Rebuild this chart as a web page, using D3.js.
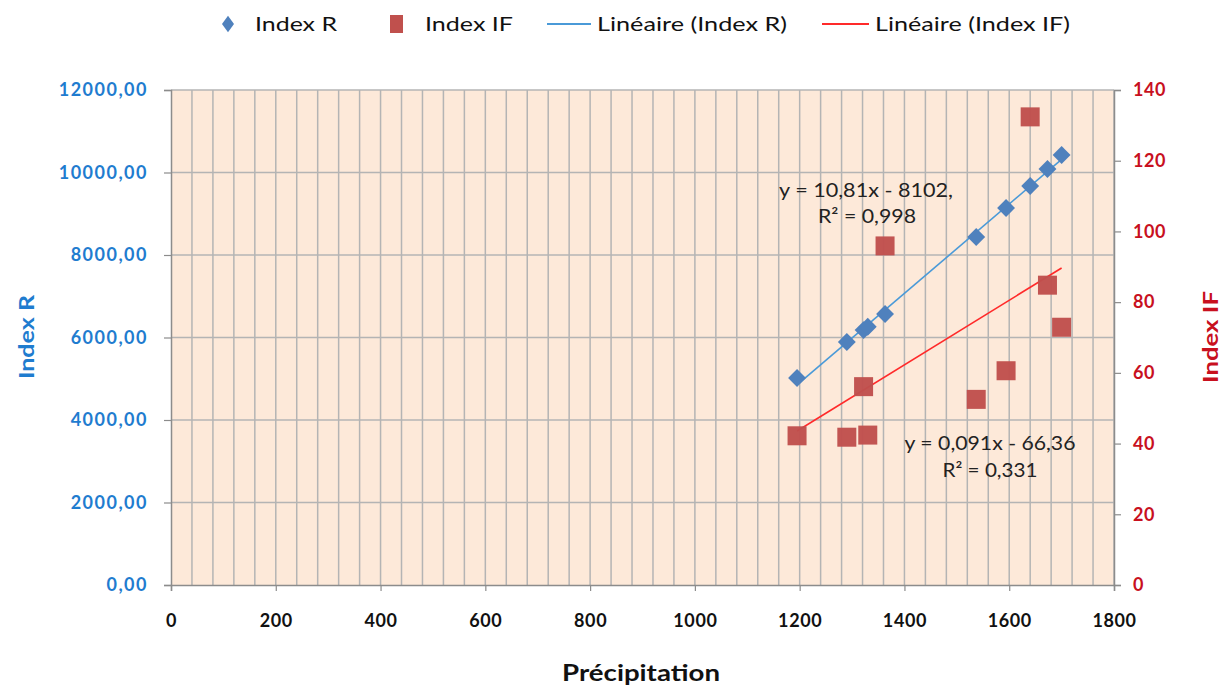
<!DOCTYPE html>
<html><head><meta charset="utf-8">
<script src="https://cdn.jsdelivr.net/npm/d3@7"></script>
<style>body{margin:0;background:#fff}svg text{font-family:Lato,"Open Sans",sans-serif}</style>
</head><body><svg id="c" width="1225" height="685"></svg>
<script>
const precipitation = [1195,1290,1322,1330,1363,1537,1594,1640,1673,1700];
const indexR = [5018,5891,6180,6260,6570,8436,9139,9673,10085,10424];
const indexIF = [42.2,41.8,56.1,42.4,95.9,52.5,60.6,132.4,84.8,72.9];
const xTicks = [0,200,400,600,800,1000,1200,1400,1600,1800];
const yLeftTicks = [0,2000,4000,6000,8000,10000,12000];
const yRightTicks = [0,20,40,60,80,100,120,140];
const eqR = ["y = 10,81x - 8102,", "R² = 0,998"];
const eqIF = ["y = 0,091x - 66,36", "R² = 0,331"];
const legendLabels = ["Index R","Index IF","Linéaire (Index R)","Linéaire (Index IF)"];

const svg = d3.select("#c");
const L=171,R=1114,T=90,B=585;
const x = d3.scaleLinear().domain([0,1800]).range([L,R]);
const yl = d3.scaleLinear().domain([0,12000]).range([B,T]);
const yr = d3.scaleLinear().domain([0,140]).range([B,T]);
const blue="#4f81bd", red="#c0504d", gridC="#b4b4b4", axisC="#8c8c8c";

svg.append("rect").attr("x",L).attr("y",T).attr("width",R-L).attr("height",B-T).attr("fill","#fde9d9");
svg.append("g").selectAll("line").data(d3.range(40,1801,40)).join("line")
 .attr("x1",d=>x(d)).attr("x2",d=>x(d)).attr("y1",T).attr("y2",B)
 .attr("stroke",gridC).attr("stroke-width",1.5);
svg.append("g").selectAll("line").data(yLeftTicks.slice(1)).join("line")
 .attr("x1",L).attr("x2",R).attr("y1",d=>yl(d)).attr("y2",d=>yl(d))
 .attr("stroke",gridC).attr("stroke-width",1.5);

// axes
const ax = d3.axisBottom(x).tickValues(xTicks).tickSize(6).tickFormat(d=>d);
const gx = svg.append("g").attr("transform",`translate(0,${B})`).call(ax);
gx.select(".domain").attr("stroke",axisC).attr("stroke-width",1.5);
gx.selectAll(".tick line").attr("stroke",axisC).attr("stroke-width",1.2);
gx.selectAll(".tick text").attr("y",29).attr("font-size",18).attr("font-weight","bold").attr("fill","#111")
 .attr("font-family","Lato").attr("letter-spacing",0.6);

const fmtL = d=>d3.format(".2f")(d).replace(".",",");
const gl = svg.append("g").attr("transform",`translate(${L},0)`).call(d3.axisLeft(yl).tickValues(yLeftTicks).tickSize(7).tickFormat(fmtL));
gl.select(".domain").attr("stroke",axisC).attr("stroke-width",1.5);
gl.selectAll(".tick line").attr("stroke",axisC).attr("stroke-width",1.2);
gl.selectAll(".tick text").attr("x",-23).attr("font-size",18).attr("font-weight","bold").attr("fill","#1f7ccf")
 .attr("font-family","Lato").attr("letter-spacing",1.5);

const gr = svg.append("g").attr("transform",`translate(${R},0)`).call(d3.axisRight(yr).tickValues(yRightTicks).tickSize(7).tickFormat(d=>d));
gr.select(".domain").attr("stroke",axisC).attr("stroke-width",1.5);
gr.selectAll(".tick line").attr("stroke",axisC).attr("stroke-width",1.2);
gr.selectAll(".tick text").attr("x",19).attr("font-size",18).attr("font-weight","bold").attr("fill","#c8101e")
 .attr("font-family","Lato").attr("letter-spacing",0.6);

// trendlines via least squares
function fit(xs,ys){const mx=d3.mean(xs),my=d3.mean(ys);let sxy=0,sxx=0;xs.forEach((v,i)=>{sxy+=(v-mx)*(ys[i]-my);sxx+=(v-mx)**2});const m=sxy/sxx;return {m,b:my-m*mx};}
const xmin=d3.min(precipitation), xmax=d3.max(precipitation);
const fr=fit(precipitation,indexR), fi=fit(precipitation,indexIF);
const lineData=[xmin,xmax];
svg.append("path").datum(lineData).attr("fill","none").attr("stroke","#4a9ad8").attr("stroke-width",1.6)
 .attr("d",d3.line().x(d=>x(d)).y(d=>yl(fr.m*d+fr.b)));
svg.append("path").datum(lineData).attr("fill","none").attr("stroke","#ff2a2a").attr("stroke-width",1.6)
 .attr("d",d3.line().x(d=>x(d)).y(d=>yr(fi.m*d+fi.b)));

// markers
const sq=19;
svg.append("g").selectAll("rect").data(precipitation).join("rect")
 .attr("x",(d)=>x(d)-sq/2).attr("y",(d,i)=>yr(indexIF[i])-sq/2).attr("width",sq).attr("height",sq)
 .attr("fill",red).attr("opacity",0.97);
const dia=d3.symbol().type(d3.symbolSquare).size(160);
svg.append("g").selectAll("path").data(precipitation).join("path")
 .attr("transform",(d,i)=>`translate(${x(d)},${yl(indexR[i])}) rotate(45)`).attr("d",dia).attr("fill",blue);

// equations
const eqG = svg.append("g").attr("font-size",19).attr("fill","#222").attr("text-anchor","middle");
function tl(sel,len){return sel.attr("textLength",len).attr("lengthAdjust","spacingAndGlyphs");}
tl(eqG.append("text").attr("x",866).attr("y",197).text(eqR[0]),174);
tl(eqG.append("text").attr("x",867).attr("y",223).text(eqR[1]),98);
tl(eqG.append("text").attr("x",990).attr("y",450).text(eqIF[0]),171);
tl(eqG.append("text").attr("x",990).attr("y",477).text(eqIF[1]),95);

// axis titles
tl(svg.append("text").attr("transform","translate(34,337) rotate(-90)").attr("text-anchor","middle")
 .attr("font-size",21).attr("font-weight","bold").attr("fill","#1f7ccf").text("Index R"),84);
tl(svg.append("text").attr("transform","translate(1218,337) rotate(-90)").attr("text-anchor","middle")
 .attr("font-size",21).attr("font-weight","bold").attr("fill","#c8101e").text("Index IF"),92);
tl(svg.append("text").attr("x",641).attr("y",681).attr("text-anchor","middle")
 .attr("font-size",22).attr("font-weight","bold").attr("fill","#111").text("Précipitation"),158);

// legend
const lg = svg.append("g").attr("font-size",20).attr("fill","#111");
lg.append("path").attr("transform","translate(228,24) scale(0.85,1.15) rotate(45)").attr("d",d3.symbol().type(d3.symbolSquare).size(100)).attr("fill",blue);
tl(lg.append("text").attr("x",255).attr("y",31).text(legendLabels[0]),82);
lg.append("rect").attr("x",390).attr("y",15).attr("width",13).attr("height",18).attr("fill",red);
tl(lg.append("text").attr("x",425).attr("y",31).text(legendLabels[1]),88);
lg.append("line").attr("x1",547).attr("x2",591).attr("y1",24).attr("y2",24).attr("stroke","#4a9ad8").attr("stroke-width",2);
tl(lg.append("text").attr("x",597).attr("y",31).text(legendLabels[2]),190);
lg.append("line").attr("x1",822).attr("x2",869).attr("y1",24).attr("y2",24).attr("stroke","#ff2a2a").attr("stroke-width",2);
tl(lg.append("text").attr("x",875).attr("y",31).text(legendLabels[3]),195);
</script></body></html>
